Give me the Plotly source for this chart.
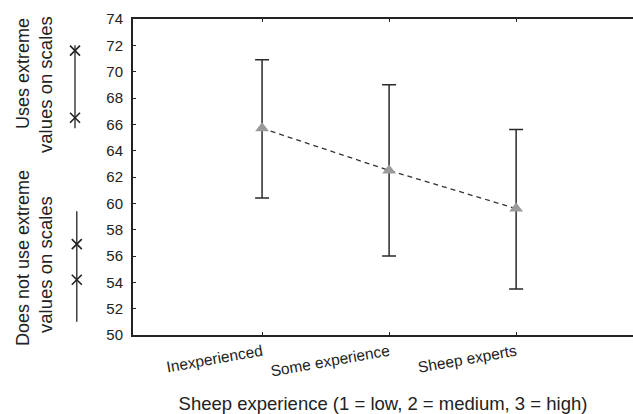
import plotly.graph_objects as go

# ---- data ----
categories = ["Inexperienced", "Some experience", "Sheep experts"]
cat_pos = [1, 2, 3]
means = [65.7, 62.5, 59.6]
upper = [70.9, 69.0, 65.6]
lower = [60.4, 56.0, 53.5]

# left-margin range markers (values on the y scale)
uses_line = [72.0, 65.7]
uses_marks = [71.6, 66.5]
notuse_line = [59.4, 51.0]
notuse_marks = [56.9, 54.2]

y_ticks = list(range(50, 75, 2))

err_plus = [u - m for u, m in zip(upper, means)]
err_minus = [m - l for m, l in zip(means, lower)]

FONT = "Liberation Sans, Arial, Helvetica, sans-serif"
INK = "#222222"

fig = go.Figure()

# dashed connecting line
fig.add_trace(go.Scatter(
    x=cat_pos, y=means, mode="lines",
    line=dict(color="#333333", width=1.3, dash="5px,4px"),
    hoverinfo="skip", showlegend=False))

# error bars
fig.add_trace(go.Scatter(
    x=cat_pos, y=means, mode="markers",
    marker=dict(size=0.1, color="rgba(0,0,0,0)"),
    error_y=dict(type="data", symmetric=False, array=err_plus, arrayminus=err_minus,
                 color="#2a2a2a", thickness=1.5, width=7),
    showlegend=False))

# triangle markers
fig.add_trace(go.Scatter(
    x=cat_pos, y=means, mode="markers",
    marker=dict(symbol="triangle-up", size=12, color="#9a9a9a"),
    showlegend=False))

# left-margin range indicators
fig.add_trace(go.Scatter(
    x=[0.625, 0.625], y=uses_line, mode="lines", xaxis="x2", yaxis="y",
    line=dict(color=INK, width=1.3), showlegend=False))
fig.add_trace(go.Scatter(
    x=[0.625, 0.625], y=uses_marks, mode="markers", xaxis="x2", yaxis="y",
    marker=dict(symbol="x-thin", size=10, line=dict(color=INK, width=1.6)),
    showlegend=False))
fig.add_trace(go.Scatter(
    x=[0.64, 0.64], y=notuse_line, mode="lines", xaxis="x2", yaxis="y",
    line=dict(color=INK, width=1.3), showlegend=False))
fig.add_trace(go.Scatter(
    x=[0.64, 0.64], y=notuse_marks, mode="markers", xaxis="x2", yaxis="y",
    marker=dict(symbol="x-thin", size=10, line=dict(color=INK, width=1.6)),
    showlegend=False))

W, H = 633, 414
left = 133

def ann(text, px, yv, size=18):
    return dict(text=text, xref="paper", yref="y", x=px / W, y=yv,
                textangle=-90, showarrow=False,
                font=dict(family=FONT, size=size, color=INK),
                xanchor="center", yanchor="middle")

fig.update_layout(
    width=W, height=H,
    margin=dict(l=0, r=0, t=19, b=79, autoexpand=False),
    paper_bgcolor="white", plot_bgcolor="white",
    font=dict(family=FONT, color=INK),
    xaxis=dict(
        domain=[left / W, 1], range=[-0.016, 3.92], automargin=False,
        tickmode="array", tickvals=cat_pos, ticktext=categories,
        tickangle=-10, tickfont=dict(size=15.5, color=INK),
        showline=True, linecolor=INK, linewidth=2, mirror="ticks",
        ticks="inside", ticklen=3, tickcolor=INK, tickwidth=1,
        showgrid=False, zeroline=False,
        title=dict(text="Sheep experience (1 = low, 2 = medium, 3 = high)",
                   font=dict(size=18.5, color=INK), standoff=20),
    ),
    xaxis2=dict(domain=[0, 120 / W], range=[0, 1], visible=False, anchor="y",
                automargin=False),
    yaxis=dict(
        range=[50, 74], tickmode="array", tickvals=y_ticks, automargin=False,
        tickfont=dict(size=15, color=INK), anchor="x",
        showline=True, linecolor=INK, linewidth=2,
        ticks="inside", ticklen=3, tickcolor=INK, tickwidth=1,
        showgrid=False, zeroline=False, ticklabelstandoff=5,
    ),
    annotations=[
        ann("Uses extreme", 23, 69.82),
        ann("values on scales", 46, 68.99, 18.5),
        ann("Does not use extreme", 23, 55.85),
        ann("values on scales", 46, 55.32, 18.5),
    ],
)

fig.write_html("out.html", config={"displayModeBar": False},
               post_script="document.body.style.margin='0';document.body.style.padding='0';")
